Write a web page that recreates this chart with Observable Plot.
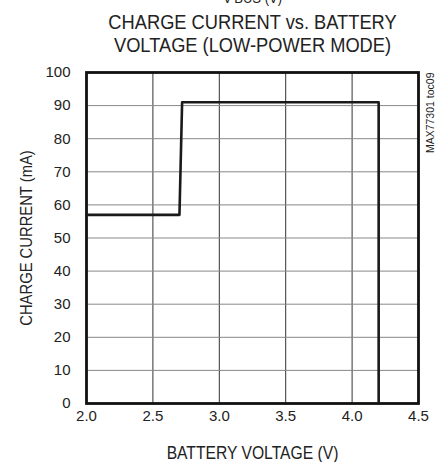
<!DOCTYPE html>
<html>
<head>
<meta charset="utf-8">
<script src="https://cdn.jsdelivr.net/npm/d3@7"></script>
<script src="https://cdn.jsdelivr.net/npm/@observablehq/plot@0.6"></script>
<style>
  html, body { margin: 0; padding: 0; background: #fff; }
  #chart { position: relative; width: 437px; height: 462px; overflow: hidden; }
</style>
</head>
<body>
<div id="chart"></div>
<script>
// Data
const voltage = [2.0, 2.7, 2.72, 4.2, 4.2];
const current = [57, 57, 91, 91, 0];
const xTicks = [2.0, 2.5, 3.0, 3.5, 4.0, 4.5];
const yTicks = [0, 10, 20, 30, 40, 50, 60, 70, 80, 90, 100];
const titleLines = ["CHARGE CURRENT vs. BATTERY", "VOLTAGE (LOW-POWER MODE)"];
const topCut = "V\u2009BUS (V)";
const xLabel = "BATTERY VOLTAGE (V)";
const yLabel = "CHARGE CURRENT (mA)";
const sideNote = "MAX77301 toc09";

const data = voltage.map((v, i) => ({v, c: current[i]}));

const fontFam = '"Liberation Sans", Arial, sans-serif';

const plot = Plot.plot({
  width: 437,
  height: 462,
  marginLeft: 86,
  marginRight: 19,
  marginTop: 72,
  marginBottom: 59,
  style: {fontFamily: fontFam, fontSize: "15px", color: "#222", background: "#fff"},
  x: {domain: [2, 4.5], ticks: xTicks, tickFormat: d3.format(".1f"), label: null},
  y: {domain: [0, 100], ticks: yTicks, label: null},
  marks: [
    Plot.gridX(xTicks, {stroke: "#333", strokeOpacity: 1, strokeWidth: 1}),
    Plot.gridY(yTicks, {stroke: "#888", strokeOpacity: 1, strokeWidth: 1}),
    Plot.axisX(xTicks, {tickSize: 0, tickPadding: 7, fontSize: 15, tickFormat: d3.format(".1f")}),
    Plot.axisY(yTicks, {tickSize: 0, tickPadding: 16, fontSize: 15}),
    Plot.frame({stroke: "#111", strokeWidth: 2.8}),
    Plot.line(data, {x: "v", y: "c", stroke: "#1a1a1a", strokeWidth: 2.6}),
    Plot.text([xLabel], {frameAnchor: "bottom", dy: 55, fontSize: 18, fill: "#222"}),
    Plot.text([yLabel], {frameAnchor: "left", dx: -60, rotate: -90, textAnchor: "middle", fontSize: 17, fill: "#222"}),
    Plot.text([sideNote], {frameAnchor: "top-right", dx: 8, dy: 0, rotate: -90, textAnchor: "end", fontSize: 10.5, fill: "#222"}),
    Plot.text([titleLines[0]], {frameAnchor: "top", dy: -58.5, fontSize: 21, fill: "#222"}),
    Plot.text([titleLines[1]], {frameAnchor: "top", dy: -35, fontSize: 21, fill: "#222"}),
    Plot.text([topCut], {frameAnchor: "top", dy: -80, fontSize: 15, fill: "#222"})
  ]
});
document.getElementById("chart").appendChild(plot);

// Narrow the centred labels to match the condensed face of the reference
const narrow = new Set([...titleLines, xLabel, yLabel, topCut]);
plot.querySelectorAll("text").forEach(t => {
  if (!narrow.has(t.textContent)) return;
  const len = t.getComputedTextLength();
  if (len > 0) {
    t.setAttribute("textLength", (len * 0.87).toFixed(2));
    t.setAttribute("lengthAdjust", "spacingAndGlyphs");
  }
});
</script>
</body>
</html>
